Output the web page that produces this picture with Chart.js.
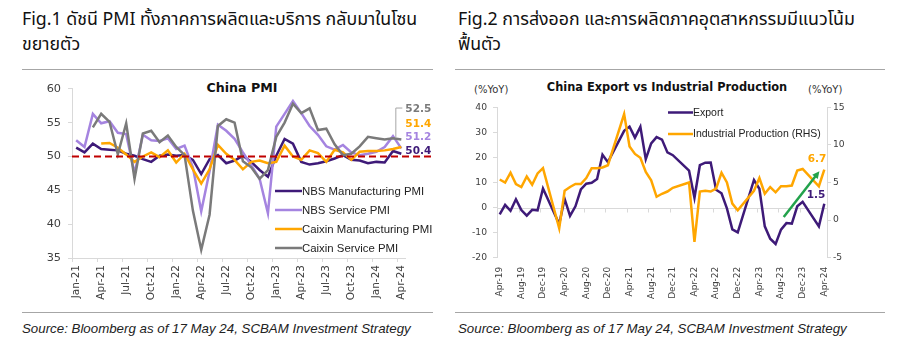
<!DOCTYPE html>
<html>
<head>
<meta charset="utf-8">
<script src="https://cdn.jsdelivr.net/npm/chart.js@4.4.1/dist/chart.umd.min.js"></script>
<style>
  html, body { margin: 0; padding: 0; background: #fff; }
  body { width: 900px; height: 348px; position: relative; overflow: hidden; color: #111;
         font-family: "Noto Sans Thai", "Noto Sans", "DejaVu Sans", sans-serif; }
  .fig { position: absolute; font-size: 17.8px; line-height: 25px; white-space: nowrap; }
  .rule { position: absolute; height: 0; border-top: 1.5px solid #a6a6a6; }
  .src { position: absolute; font: italic 13.3px "Liberation Sans", Arial, sans-serif; color: #222; white-space: nowrap; }
  .ctitle { position: absolute; font: bold 12.6px "DejaVu Sans", sans-serif; color: #111; transform: translate(-50%, -50%); white-space: nowrap; }
  .unit { position: absolute; font: 10px "DejaVu Sans", sans-serif; color: #333; transform: translateY(-50%); }
  .box { position: absolute; }
</style>
</head>
<body>
<div class="fig" style="left:22px;top:7px;">Fig.1 ดัชนี PMI ทั้งภาคการผลิตและบริการ กลับมาในโซน<br>ขยายตัว</div>
<div class="fig" style="left:458px;top:7px;">Fig.2 การส่งออก และการผลิตภาคอุตสาหกรรมมีแนวโน้ม<br>ฟื้นตัว</div>
<div class="rule" style="left:22px;top:69px;width:411px;"></div>
<div class="rule" style="left:455px;top:69px;width:430px;"></div>
<div class="rule" style="left:22px;top:312px;width:411px;"></div>
<div class="rule" style="left:455px;top:312px;width:430px;"></div>
<div class="src" style="left:22px;top:321px;">Source: Bloomberg as of 17 May 24, SCBAM Investment Strategy</div>
<div class="src" style="left:458px;top:321px;">Source: Bloomberg as of 17 May 24, SCBAM Investment Strategy</div>

<div class="ctitle" style="left:242px;top:87px;">China PMI</div>
<div class="ctitle" style="left:667px;top:87px;font-size:11.4px;">China Export vs Industrial Production</div>
<div class="unit" style="left:474px;top:89px;">(%YoY)</div>
<div class="unit" style="left:808px;top:89px;">(%YoY)</div>

<div class="box" style="left:0;top:75px;"><canvas id="pmiChart" width="445" height="235"></canvas></div>
<div class="box" style="left:450px;top:75px;"><canvas id="tradeChart" width="450" height="235"></canvas></div>

<script>
// ---- Fig.1 data (monthly, Jan-21 .. Apr-24)
const pmiLabels = [
  "Jan-21","Feb-21","Mar-21","Apr-21","May-21","Jun-21","Jul-21","Aug-21","Sep-21","Oct-21","Nov-21","Dec-21",
  "Jan-22","Feb-22","Mar-22","Apr-22","May-22","Jun-22","Jul-22","Aug-22","Sep-22","Oct-22","Nov-22","Dec-22",
  "Jan-23","Feb-23","Mar-23","Apr-23","May-23","Jun-23","Jul-23","Aug-23","Sep-23","Oct-23","Nov-23","Dec-23",
  "Jan-24","Feb-24","Mar-24","Apr-24"
];
const nbsManufacturing = [
  51.3, 50.6, 51.9, 51.1, 51.0, 50.9, 50.4, 50.1, 49.6, 49.2, 50.1, 50.3,
  50.1, 50.2, 49.5, 47.4, 49.6, 50.2, 49.0, 49.4, 50.1, 49.2, 48.0, 47.0,
  50.1, 52.6, 51.9, 49.2, 48.8, 49.0, 49.3, 49.7, 50.2, 49.5, 49.4, 49.0,
  49.2, 49.1, 50.8, 50.4
];
const nbsService = [
  52.4, 51.4, 56.3, 54.9, 55.2, 53.5, 53.3, 47.5, 53.2, 52.4, 52.3, 52.7,
  51.1, 51.6, 48.4, 41.9, 47.8, 54.7, 53.8, 52.6, 50.6, 48.7, 46.7, 41.6,
  54.4, 56.3, 58.2, 56.4, 54.5, 53.2, 51.5, 51.0, 51.7, 50.6, 50.2, 50.4,
  50.7, 51.4, 53.0, 51.2
];
const caixinManufacturing = [
  null, null, null, 51.9, 52.0, 51.3, 50.3, 49.2, 50.0, 50.6, 49.9, 50.9,
  49.1, 50.4, 48.1, 46.0, 48.1, 51.7, 50.4, 49.5, 48.1, 49.2, 49.4, 49.0,
  49.2, 51.6, 50.0, 49.5, 50.9, 50.5, 49.2, 51.0, 50.6, 49.5, 50.7, 50.8,
  50.8, 50.9, 51.1, 51.4
];
const caixinService = [
  null, null, 54.3, 56.3, 55.1, 50.3, 54.9, 46.7, 53.4, 53.8, 52.1, 53.1,
  51.4, 50.2, 42.0, 36.2, 41.4, 54.5, 55.5, 55.0, 49.3, 48.4, 46.7, 48.0,
  52.9, 55.0, 57.8, 56.4, 57.1, 53.9, 54.1, 51.8, 50.2, 50.4, 51.5, 52.9,
  52.7, 52.5, 52.7, 52.5
];
const pmiNames = ["NBS Manufacturing PMI", "NBS Service PMI", "Caixin Manufacturing PMI", "Caixin Service PMI"];
const pmiColors = ["#3E1A78", "#A584E0", "#FFA600", "#7A7A7A"];
const pmiThreshold = 50;

// ---- Fig.2 data (monthly, Apr-19 .. Apr-24; Jan/Feb not shown)
const tradeLabels = [
  "Apr-19","May-19","Jun-19","Jul-19","Aug-19","Sep-19","Oct-19","Nov-19","Dec-19",
  "Jan-20","Feb-20","Mar-20","Apr-20","May-20","Jun-20","Jul-20","Aug-20","Sep-20","Oct-20","Nov-20","Dec-20",
  "Jan-21","Feb-21","Mar-21","Apr-21","May-21","Jun-21","Jul-21","Aug-21","Sep-21","Oct-21","Nov-21","Dec-21",
  "Jan-22","Feb-22","Mar-22","Apr-22","May-22","Jun-22","Jul-22","Aug-22","Sep-22","Oct-22","Nov-22","Dec-22",
  "Jan-23","Feb-23","Mar-23","Apr-23","May-23","Jun-23","Jul-23","Aug-23","Sep-23","Oct-23","Nov-23","Dec-23",
  "Jan-24","Feb-24","Mar-24","Apr-24"
];
const exportYoY = [
  -2.7, 1.1, -1.3, 3.3, -1.0, -3.2, -0.9, -1.1, 7.6,
  null, null, -6.6, 3.5, -3.3, 0.5, 7.2, 9.5, 9.9, 11.4, 21.1, 18.1,
  null, null, 30.6, 32.3, 27.9, 32.2, 19.3, 25.6, 28.1, 27.1, 22.0, 20.9,
  null, null, 14.7, 3.9, 16.9, 17.9, 18.0, 7.1, 5.7, -0.3, -8.7, -9.9,
  null, null, 11.0, 7.5, -7.5, -12.4, -14.5, -8.8, -6.2, -6.4, 0.5, 2.3,
  null, null, -7.5, 1.5
];
const industrialProduction = [
  5.4, 5.0, 6.3, 4.8, 4.4, 5.8, 4.7, 6.2, 6.9,
  null, null, -1.1, 3.9, 4.4, 4.8, 4.8, 5.6, 6.9, 6.9, 7.0, 7.3,
  null, null, 14.1, 9.8, 8.8, 8.3, 6.4, 5.3, 3.1, 3.5, 3.8, 4.3,
  null, null, 5.0, -2.9, 3.8, 3.9, 3.8, 4.2, 6.3, 5.0, 2.2, 1.3,
  null, null, 3.9, 5.6, 3.5, 4.4, 3.7, 4.5, 4.5, 4.6, 6.6, 6.8,
  null, null, 4.5, 6.7
];
const tradeNames = ["Export", "Industrial Production (RHS)"];
const tradeColors = ["#3E1A78", "#FFA600"];
// trend arrow, in (month index, RHS value)
const arrowFrom = [52.5, 0.4];
const arrowTo = [59.1, 6.5];

const tickColor = "#404040";
const axisColor = "#d9d9d9";

const pmiExtras = {
  id: "pmiExtras",
  afterDatasetsDraw(chart) {
    const { ctx, chartArea: a, scales: { x, y } } = chart;
    ctx.save();
    // 50 line
    const y50 = y.getPixelForValue(pmiThreshold);
    ctx.strokeStyle = "#C00000";
    ctx.lineWidth = 2;
    ctx.setLineDash([7, 4]);
    ctx.beginPath();
    ctx.moveTo(a.left, y50);
    ctx.lineTo(a.right + 28, y50);
    ctx.stroke();
    ctx.setLineDash([]);

    // last-value labels
    const last = pmiLabels.length - 1;
    const lx = x.getPixelForValue(last);
    const shifts = [-2, -11, -23, -30];
    ctx.font = "bold 10.5px 'DejaVu Sans'";
    ctx.textBaseline = "middle";
    ctx.textAlign = "left";
    chart.data.datasets.forEach((ds, i) => {
      const v = ds.data[last];
      const py = y.getPixelForValue(v);
      const ty = py + shifts[i];
      ctx.fillStyle = pmiColors[i];
      ctx.fillText(v.toFixed(1), lx + 4, ty);
      if (i === 3) {
        ctx.strokeStyle = "#a6a6a6";
        ctx.lineWidth = 1;
        ctx.beginPath();
        ctx.moveTo(lx + 1, ty - 1.5);
        ctx.lineTo(lx - 5.5, ty - 1.5);
        ctx.lineTo(lx - 5.5, py - 2);
        ctx.stroke();
      }
    });

    // legend
    ctx.font = "11.4px 'Liberation Sans'";
    ctx.lineWidth = 2.5;
    pmiNames.forEach((name, i) => {
      const ry = 116 + i * 19;
      ctx.strokeStyle = pmiColors[i];
      ctx.beginPath();
      ctx.moveTo(275, ry);
      ctx.lineTo(302, ry);
      ctx.stroke();
      ctx.fillStyle = "#222";
      ctx.fillText(name, 302, ry + 0.5);
    });
    ctx.restore();
  }
};

const tradeExtras = {
  id: "tradeExtras",
  beforeDatasetsDraw(chart) {
    const { ctx, chartArea: a, scales: { x, y } } = chart;
    const y0 = Math.round(y.getPixelForValue(0)) + 0.5;
    const step = x.getPixelForValue(1) - x.getPixelForValue(0);
    ctx.save();
    ctx.strokeStyle = axisColor;
    ctx.lineWidth = 1;
    ctx.beginPath();
    ctx.moveTo(a.left, y0);
    ctx.lineTo(a.right, y0);
    for (let i = 0; i < tradeLabels.length; i += 4) {
      const tx = Math.round(x.getPixelForValue(i) - step / 2) + 0.5;
      ctx.moveTo(tx, y0);
      ctx.lineTo(tx, y0 + 4);
    }
    ctx.stroke();
    ctx.restore();
  },
  afterDatasetsDraw(chart) {
    const { ctx, scales: { x, y, y1 } } = chart;
    ctx.save();
    // arrow
    const x1 = x.getPixelForValue(arrowFrom[0]), yA = y1.getPixelForValue(arrowFrom[1]);
    const x2 = x.getPixelForValue(arrowTo[0]), yB = y1.getPixelForValue(arrowTo[1]);
    const ang = Math.atan2(yB - yA, x2 - x1);
    const head = 8;
    ctx.strokeStyle = "#22A24B";
    ctx.fillStyle = "#22A24B";
    ctx.lineWidth = 2.5;
    ctx.beginPath();
    ctx.moveTo(x1, yA);
    ctx.lineTo(x2 - head * 0.8 * Math.cos(ang), yB - head * 0.8 * Math.sin(ang));
    ctx.stroke();
    ctx.beginPath();
    ctx.moveTo(x2, yB);
    ctx.lineTo(x2 - head * Math.cos(ang - 0.45), yB - head * Math.sin(ang - 0.45));
    ctx.lineTo(x2 - head * Math.cos(ang + 0.45), yB - head * Math.sin(ang + 0.45));
    ctx.closePath();
    ctx.fill();

    // last-value labels
    const last = tradeLabels.length - 1;
    const lx = x.getPixelForValue(last);
    ctx.font = "bold 10.5px 'DejaVu Sans'";
    ctx.textAlign = "right";
    ctx.textBaseline = "middle";
    ctx.fillStyle = tradeColors[0];
    ctx.fillText(exportYoY[last].toFixed(1), lx + 1, y.getPixelForValue(exportYoY[last]) - 9);
    ctx.fillStyle = tradeColors[1];
    ctx.fillText(industrialProduction[last].toFixed(1), lx + 2, y1.getPixelForValue(industrialProduction[last]) - 10.5);

    // legend
    ctx.textAlign = "left";
    ctx.font = "10.5px 'Liberation Sans'";
    ctx.lineWidth = 2.5;
    tradeNames.forEach((name, i) => {
      const ry = 37.5 + i * 21.5;
      ctx.strokeStyle = tradeColors[i];
      ctx.beginPath();
      ctx.moveTo(218, ry);
      ctx.lineTo(243, ry);
      ctx.stroke();
      ctx.fillStyle = "#222";
      ctx.fillText(name, 243, ry + 0.5);
    });
    ctx.restore();
  }
};

function lineSet(label, data, color, order, axis) {
  return {
    label, data, order,
    yAxisID: axis || "y",
    borderColor: color,
    backgroundColor: color,
    borderWidth: 2.5,
    pointRadius: 0,
    tension: 0,
    spanGaps: true,
    fill: false
  };
}

new Chart(document.getElementById("pmiChart"), {
  type: "line",
  data: {
    labels: pmiLabels,
    datasets: [
      lineSet(pmiNames[0], nbsManufacturing, pmiColors[0], 4),
      lineSet(pmiNames[1], nbsService, pmiColors[1], 3),
      lineSet(pmiNames[2], caixinManufacturing, pmiColors[2], 2),
      lineSet(pmiNames[3], caixinService, pmiColors[3], 1)
    ]
  },
  options: {
    responsive: false,
    animation: false,
    layout: { padding: { top: 13, right: 39.5, bottom: 0, left: 0 } },
    plugins: { legend: { display: false }, tooltip: { enabled: false } },
    scales: {
      x: {
        offset: true,
        border: { display: true, color: axisColor },
        grid: {
          offset: true, drawOnChartArea: false, tickLength: 4,
          color: (c) => (c.index % 3 === 0 ? axisColor : "rgba(0,0,0,0)")
        },
        ticks: {
          autoSkip: false, minRotation: 90, maxRotation: 90, padding: 3,
          color: tickColor, font: { family: "DejaVu Sans", size: 10.5 },
          callback: (v, i) => (i % 3 === 0 ? pmiLabels[i] : "")
        },
        afterFit: (s) => { s.height = 52; }
      },
      y: {
        min: 35, max: 60,
        border: { display: true, color: axisColor },
        grid: { drawOnChartArea: false, tickLength: 4, color: axisColor },
        ticks: { stepSize: 5, padding: 7, color: tickColor, font: { family: "DejaVu Sans", size: 11.3 } },
        afterFit: (s) => { s.width = 72; }
      }
    }
  },
  plugins: [pmiExtras]
});

new Chart(document.getElementById("tradeChart"), {
  type: "line",
  data: {
    labels: tradeLabels,
    datasets: [
      lineSet(tradeNames[0], exportYoY, tradeColors[0], 2, "y"),
      lineSet(tradeNames[1], industrialProduction, tradeColors[1], 1, "y1")
    ]
  },
  options: {
    responsive: false,
    animation: false,
    layout: { padding: { top: 32.3, right: 0, bottom: 0, left: 0 } },
    plugins: { legend: { display: false }, tooltip: { enabled: false } },
    scales: {
      x: {
        offset: true,
        border: { display: false },
        grid: { display: false, drawTicks: false },
        ticks: {
          autoSkip: false, minRotation: 90, maxRotation: 90, padding: 9,
          color: tickColor, font: { family: "DejaVu Sans", size: 9 },
          callback: (v, i) => (i % 4 === 0 ? tradeLabels[i] : "")
        },
        afterFit: (s) => { s.height = 52.3; }
      },
      y: {
        position: "left",
        min: -20, max: 40,
        border: { display: true, color: axisColor },
        grid: { drawOnChartArea: false, tickLength: 4, color: axisColor },
        ticks: { stepSize: 10, padding: 6, color: tickColor, font: { family: "DejaVu Sans", size: 9.2 } },
        afterFit: (s) => { s.width = 47; }
      },
      y1: {
        position: "right",
        min: -5, max: 15,
        border: { display: true, color: axisColor },
        grid: { drawOnChartArea: false, tickLength: 4, color: axisColor },
        ticks: { stepSize: 5, padding: 2, color: tickColor, font: { family: "DejaVu Sans", size: 9.2 } },
        afterFit: (s) => { s.width = 73; }
      }
    }
  },
  plugins: [tradeExtras]
});
</script>
</body>
</html>
